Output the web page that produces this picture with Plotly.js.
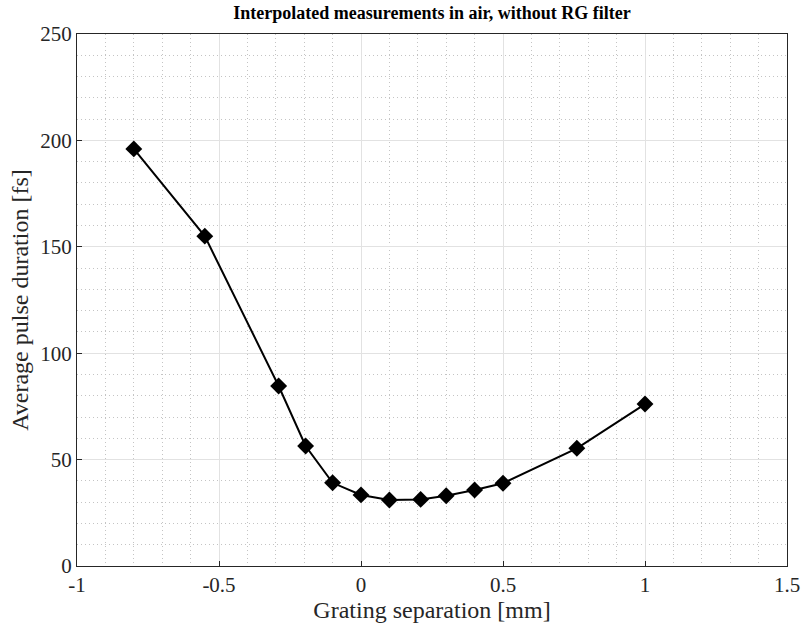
<!DOCTYPE html>
<html>
<head>
<meta charset="utf-8">
<script src="https://cdn.plot.ly/plotly-3.0.1.min.js"></script>
<style>html,body{margin:0;padding:0;background:#fff;}#chart{width:801px;height:630px;}</style>
</head>
<body>
<div id="chart"></div>
<script>
const gratingSeparation = [-0.8, -0.55, -0.29, -0.195, -0.1, 0, 0.1, 0.21, 0.3, 0.4, 0.5, 0.76, 1.0];
const pulseDuration = [196, 155, 84.6, 56.4, 39.1, 33.4, 31.0, 31.3, 33.0, 35.7, 38.9, 55.3, 76.1];
const xTicks = [-1, -0.5, 0, 0.5, 1, 1.5];
const xTickLabels = ['-1', '-0.5', '0', '0.5', '1', '1.5'];
const yTicks = [0, 50, 100, 150, 200, 250];

const serif = '"Liberation Serif", "Times New Roman", serif';

const trace = {
  x: gratingSeparation,
  y: pulseDuration,
  mode: 'lines+markers',
  type: 'scatter',
  line: {color: '#000', width: 2},
  marker: {symbol: 'diamond', size: 13, color: '#000'},
  showlegend: false
};

const axisCommon = {
  showline: true,
  linecolor: '#262626',
  linewidth: 1,
  mirror: true,
  ticks: 'inside',
  ticklen: 5,
  tickcolor: '#262626',
  showgrid: true,
  gridcolor: '#e2e2e2',
  gridwidth: 1,
  zeroline: false,
  tickfont: {family: serif, size: 21, color: '#262626'}
};

const minorGrid = {showgrid: true, griddash: '1px,3px', gridcolor: '#c4c4c4', gridwidth: 1, ticklen: 0};

const layout = {
  width: 801,
  height: 630,
  margin: {l: 77, r: 14, t: 34, b: 64},
  paper_bgcolor: '#fff',
  plot_bgcolor: '#fff',
  title: {
    text: '<b>Interpolated measurements in air, without RG filter</b>',
    font: {family: serif, size: 18, color: '#000'},
    x: 0.5, xref: 'paper', xanchor: 'center',
    y: 0.99, yref: 'container', yanchor: 'top'
  },
  xaxis: Object.assign({}, axisCommon, {
    range: [-1, 1.5],
    tickvals: xTicks,
    ticktext: xTickLabels,
    minor: Object.assign({dtick: 0.1, tick0: -1}, minorGrid),
    title: {text: 'Grating separation [mm]', font: {family: serif, size: 24, color: '#262626'}, standoff: 2}
  }),
  yaxis: Object.assign({}, axisCommon, {
    range: [0, 250],
    tickvals: yTicks,
    minor: Object.assign({dtick: 10, tick0: 0}, minorGrid),
    title: {text: 'Average pulse duration [fs]', font: {family: serif, size: 24, color: '#262626'}, standoff: 4}
  })
};

Plotly.newPlot('chart', [trace], layout, {displayModeBar: false, staticPlot: true});
</script>
</body>
</html>
